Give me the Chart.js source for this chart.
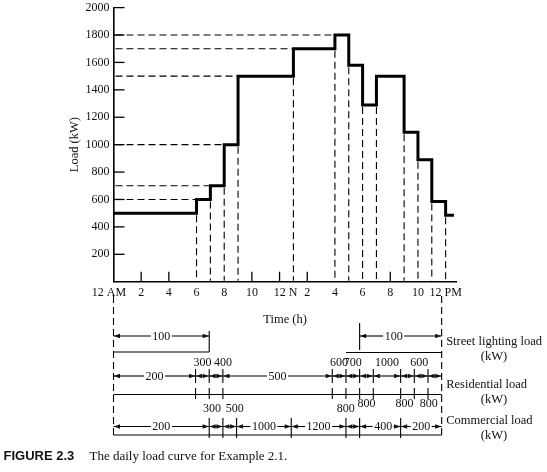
<!DOCTYPE html>
<html><head><meta charset="utf-8">
<script src="https://cdn.jsdelivr.net/npm/chart.js@4/dist/chart.umd.min.js"></script>
<style>html,body{margin:0;padding:0;background:#fff;}#wrap{position:relative;width:547px;height:472px;}</style>
</head><body><div id="wrap"><canvas id="c" width="547" height="472"></canvas></div>
<script>
// ---- data ----
const stepStartHours = [0, 6, 7, 8, 9, 13, 16, 17, 18, 19, 21, 22, 23, 24];
const loadKW        = [500, 600, 700, 1000, 1500, 1700, 1800, 1580, 1290, 1500, 1090, 890, 585, 485];
const curveEndHour  = 24.6;
const yTicksKW   = [0, 200, 400, 600, 800, 1000, 1200, 1400, 1600, 1800, 2000];
const xTickHours = [0, 2, 4, 6, 8, 10, 12, 14, 16, 18, 20, 22, 24];
const xTickLabels = ['12 AM', '2', '4', '6', '8', '10', '12 N', '2', '4', '6', '8', '10', '12 PM'];
const streetSegments = [[0, 7], [18, 24]];
const streetKW = [100, 100];
const resBounds = [0, 6, 7, 8, 16, 17, 18, 19, 21, 22, 23, 24];
const resKW     = [200, 300, 400, 500, 600, 700, 800, 1000, 800, 600, 800];
const comBounds = [0, 7, 8, 9, 13, 17, 18, 21, 24];
const comKW     = [200, 300, 500, 1000, 1200, 800, 400, 200];

// ---- styling ----
const TXT = '#111';
const SERIF = "'Liberation Serif', 'DejaVu Serif', serif";
const resPlace = ['in', 'up', 'up', 'in', 'up', 'up', 'down', 'up', 'down', 'up', 'down'];
const resDx    = [0, 0, 7, 0, 0, 0, 0, 0, -3, -2, -6];
const comPlace = ['in', 'up', 'up', 'in', 'in', 'up', 'in', 'in'];
const comDx    = [0, -4, 5, 0, 0, -7, 3, 0];
const streetDx = [0, -7];
// small horizontal nudges of a few axis labels (leading/trailing spaces)
const labelPad = {'12 AM': '12 AM   ', '12 N': '    12 N'};

const points = stepStartHours.map((h, i) => ({x: h, y: loadKW[i]}));
points.push({x: curveEndHour, y: loadKW[loadKW.length - 1]});

function seg(ctx, x1, y1, x2, y2) { ctx.beginPath(); ctx.moveTo(x1, y1); ctx.lineTo(x2, y2); ctx.stroke(); }
function head(ctx, tipX, y, dir) {
  const L = 6, H = 2.3;
  ctx.beginPath(); ctx.moveTo(tipX, y); ctx.lineTo(tipX - dir * L, y - H); ctx.lineTo(tipX - dir * L, y + H); ctx.closePath(); ctx.fill();
}
function dim(ctx, x1, x2, y, label, inline, dx) {
  if (inline) {
    const w = ctx.measureText(label).width;
    const cx = (x1 + x2) / 2 + dx;
    seg(ctx, x1, y, cx - w / 2 - 1.5, y);
    seg(ctx, cx + w / 2 + 1.5, y, x2, y);
    ctx.fillText(label, cx, y + 0.5);
  } else {
    seg(ctx, x1, y, x2, y);
  }
  head(ctx, x1 + 0.5, y, -1);
  head(ctx, x2 - 0.5, y, 1);
}

const refLines = {
  id: 'refLines',
  beforeDatasetsDraw(chart) {
    const {ctx, chartArea: a, scales: {x, y}} = chart;
    ctx.save();
    ctx.strokeStyle = '#000';
    ctx.lineWidth = 1.3;
    yTicksKW.forEach(v => { if (v === 0) return; const py = y.getPixelForValue(v); seg(ctx, a.left, py, a.left + 11, py); });
    xTickHours.forEach(h => { if (h === 0 || stepStartHours.includes(h)) return; const px = x.getPixelForValue(h); seg(ctx, px, a.bottom, px, a.bottom - 10); });
    ctx.setLineDash([7, 4]);
    ctx.lineWidth = 1.1;
    let maxSoFar = loadKW[0];
    for (let i = 1; i < stepStartHours.length; i++) {
      const px = x.getPixelForValue(stepStartHours[i]);
      const low = Math.min(loadKW[i - 1], loadKW[i]);
      seg(ctx, px, y.getPixelForValue(low) + 2, px, a.bottom - 1);
      if (loadKW[i] > maxSoFar) {
        maxSoFar = loadKW[i];
        const py = y.getPixelForValue(loadKW[i]);
        seg(ctx, a.left + 2, py, px - 1, py);
      }
    }
    ctx.restore();
  },
  afterDraw(chart) {
    const {ctx, scales: {xAnn}} = chart;
    const X = h => xAnn.getPixelForValue(h);
    ctx.save();
    ctx.strokeStyle = '#000'; ctx.fillStyle = '#000'; ctx.lineWidth = 1.1;
    // dashed guides at 12 AM and 12 PM
    ctx.setLineDash([7, 4]);
    seg(ctx, X(0), 296, X(0), 437);
    seg(ctx, X(24), 296, X(24), 438);
    ctx.setLineDash([]);
    ctx.font = '12px ' + SERIF;
    ctx.textAlign = 'center'; ctx.textBaseline = 'middle';

    // street lighting row
    streetSegments.forEach((s, i) => {
      const x1 = X(s[0]), x2 = X(s[1]);
      if (i === 0) {
        seg(ctx, x2, 331, x2, 352);
        seg(ctx, x1, 352, x2, 352);
      } else {
        seg(ctx, x1, 323, x1, 350);
        seg(ctx, X(s[0] - 1), 352.5, x2, 352.5);
      }
      ctx.fillStyle = TXT;
      dim(ctx, x1, x2, 336, String(streetKW[i]), true, streetDx[i]);
    });

    // residential row
    for (let i = 1; i < resBounds.length - 1; i++) {
      const px = X(resBounds[i]);
      seg(ctx, px, 369, px, 383);
      seg(ctx, px, 388, px, 399);
    }
    seg(ctx, X(0), 394.5, X(24), 394.5);
    for (let i = 0; i < resKW.length; i++) {
      const x1 = X(resBounds[i]), x2 = X(resBounds[i + 1]);
      const lab = String(resKW[i]);
      ctx.fillStyle = TXT;
      dim(ctx, x1, x2, 376, lab, resPlace[i] === 'in', resDx[i]);
      const cx = (x1 + x2) / 2 + resDx[i];
      if (resPlace[i] === 'up') ctx.fillText(lab, cx, 362.5);
      if (resPlace[i] === 'down') ctx.fillText(lab, cx, 403.5);
    }

    // commercial row
    for (let i = 1; i < comBounds.length - 1; i++) {
      const px = X(comBounds[i]);
      seg(ctx, px, 418, px, 438);
    }
    seg(ctx, X(0), 435, X(24), 435);
    for (let i = 0; i < comKW.length; i++) {
      const x1 = X(comBounds[i]), x2 = X(comBounds[i + 1]);
      const lab = String(comKW[i]);
      ctx.fillStyle = TXT;
      dim(ctx, x1, x2, 426.5, lab, comPlace[i] === 'in', comDx[i]);
      const cx = (x1 + x2) / 2 + comDx[i];
      if (comPlace[i] === 'up') ctx.fillText(lab, cx, 409);
    }

    // row titles
    ctx.fillStyle = TXT;
    ctx.font = '12.5px ' + SERIF;
    const tx = X(24) + 4.5;
    ctx.textAlign = 'left';
    ctx.fillText('Street lighting load', tx, 342);
    ctx.fillText('Residential load', tx, 385);
    ctx.fillText('Commercial load', tx, 421);
    ctx.textAlign = 'center';
    ctx.fillText('(kW)', 494, 357);
    ctx.fillText('(kW)', 494, 399.5);
    ctx.fillText('(kW)', 494, 435.5);

    // caption
    ctx.textAlign = 'left'; ctx.textBaseline = 'alphabetic';
    ctx.fillStyle = '#111';
    ctx.font = "bold 13px 'Liberation Sans', Arial, sans-serif";
    ctx.fillText('FIGURE 2.3', 3.5, 459.5);
    ctx.font = '13px ' + SERIF;
    ctx.fillText('The daily load curve for Example 2.1.', 89.5, 459.5);
    ctx.restore();
  }
};

new Chart(document.getElementById('c'), {
  type: 'line',
  data: {datasets: [{
    data: points, stepped: true, borderColor: '#000', borderWidth: 3,
    pointRadius: 0, fill: false, borderJoinStyle: 'miter', borderCapStyle: 'butt'
  }]},
  options: {
    animation: false, responsive: false, devicePixelRatio: 1,
    layout: {padding: {left: 0, right: 90.3, top: 5, bottom: 145.2}},
    plugins: {legend: {display: false}, tooltip: {enabled: false}},
    scales: {
      x: {
        type: 'linear', min: 0, max: 24.8,
        afterBuildTicks: s => { s.ticks = xTickHours.map(v => ({value: v})); },
        ticks: {autoSkip: false, maxRotation: 0, padding: 4, color: TXT,
          font: {family: SERIF, size: 12},
          callback: (v, i) => labelPad[xTickLabels[i]] || xTickLabels[i]},
        grid: {display: false, drawTicks: false},
        border: {display: true, color: '#000', width: 1.6},
        title: {display: true, text: 'Time (h)', color: TXT, font: {family: SERIF, size: 12.5}, padding: {top: 0, bottom: 0}},
        afterFit: s => { s.height = 45.1; }
      },
      xAnn: {type: 'linear', position: 'bottom', display: false, min: 0, max: 25.1},
      y: {
        min: 0, max: 2000,
        afterBuildTicks: s => { s.ticks = yTicksKW.map(v => ({value: v})); },
        ticks: {padding: 4, color: TXT, font: {family: SERIF, size: 12, lineHeight: 0.6},
          callback: v => (v === 0 ? '' : String(v))},
        grid: {display: false, drawTicks: false},
        border: {display: true, color: '#000', width: 1.6},
        title: {display: true, text: 'Load (kW)', color: TXT, font: {family: SERIF, size: 12.5}, padding: {top: 67.5, bottom: 0}},
        afterFit: s => { s.width = 113.5; }
      }
    }
  },
  plugins: [refLines]
});
</script>
</body></html>
